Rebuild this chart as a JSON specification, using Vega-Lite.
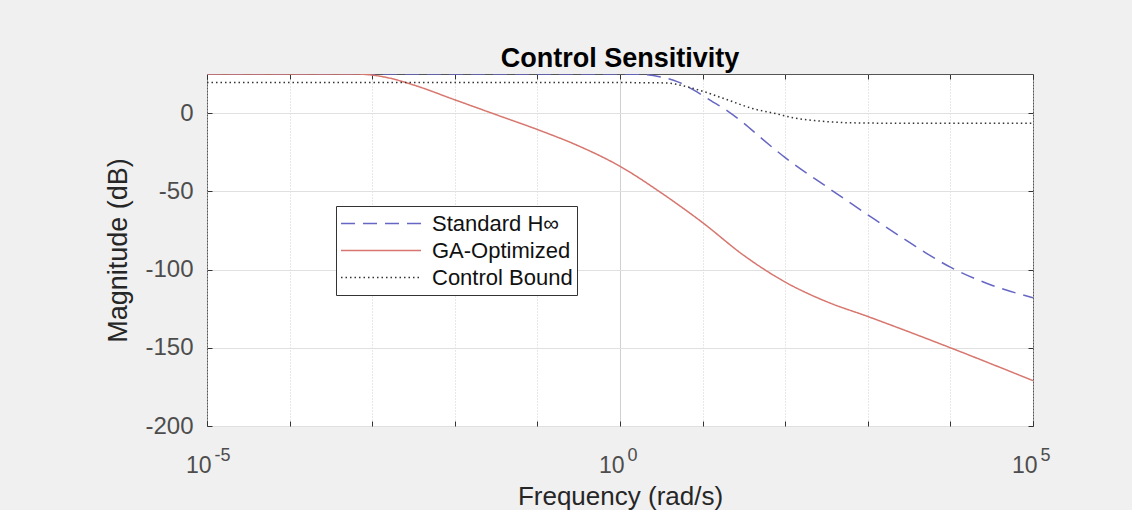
{
  "$schema": "https://vega.github.io/schema/vega-lite/v6.json",
  "width": 826,
  "height": 352,
  "autosize": {"type": "none"},
  "padding": {"left": 207, "top": 74, "right": 99, "bottom": 84},
  "background": "#f0f0f0",
  "title": {"text": "Control Sensitivity", "font": "Liberation Sans", "fontSize": 27, "fontWeight": "bold", "color": "#000000", "anchor": "middle", "offset": 1},
  "config": {
    "view": {"fill": "#ffffff", "stroke": "#555555", "strokeWidth": 1},
    "axis": {"labelFont": "Liberation Sans", "titleFont": "Liberation Sans", "labelColor": "#4d4d4d", "titleColor": "#262626", "titleFontWeight": "normal", "domain": false, "tickColor": "#333333", "labelFlush": false, "labelOverlap": false, "labelBound": false}
  },
  "data": {"values": [
    {"f": 0.00001, "mag": 25, "s": "Standard H∞"},
    {"f": 0.0001, "mag": 25, "s": "Standard H∞"},
    {"f": 0.001, "mag": 25, "s": "Standard H∞"},
    {"f": 0.01, "mag": 25, "s": "Standard H∞"},
    {"f": 0.1, "mag": 25, "s": "Standard H∞"},
    {"f": 1, "mag": 25, "s": "Standard H∞"},
    {"f": 1.995, "mag": 24.6, "s": "Standard H∞"},
    {"f": 3.162, "mag": 23, "s": "Standard H∞"},
    {"f": 5.012, "mag": 20, "s": "Standard H∞"},
    {"f": 7.943, "mag": 14.5, "s": "Standard H∞"},
    {"f": 12.59, "mag": 8, "s": "Standard H∞"},
    {"f": 19.95, "mag": 1.5, "s": "Standard H∞"},
    {"f": 31.62, "mag": -6.5, "s": "Standard H∞"},
    {"f": 50.12, "mag": -15.5, "s": "Standard H∞"},
    {"f": 100, "mag": -28.5, "s": "Standard H∞"},
    {"f": 316.2, "mag": -47, "s": "Standard H∞"},
    {"f": 1000, "mag": -65, "s": "Standard H∞"},
    {"f": 3162, "mag": -82.5, "s": "Standard H∞"},
    {"f": 10000, "mag": -98.5, "s": "Standard H∞"},
    {"f": 31623, "mag": -110, "s": "Standard H∞"},
    {"f": 100000, "mag": -118, "s": "Standard H∞"},
    {"f": 0.00001, "mag": 25, "s": "GA-Optimized"},
    {"f": 0.0001, "mag": 25, "s": "GA-Optimized"},
    {"f": 0.000631, "mag": 25, "s": "GA-Optimized"},
    {"f": 0.001, "mag": 24.3, "s": "GA-Optimized"},
    {"f": 0.001585, "mag": 22.5, "s": "GA-Optimized"},
    {"f": 0.003162, "mag": 18, "s": "GA-Optimized"},
    {"f": 0.01, "mag": 8.5, "s": "GA-Optimized"},
    {"f": 0.03162, "mag": -1, "s": "GA-Optimized"},
    {"f": 0.1, "mag": -10.5, "s": "GA-Optimized"},
    {"f": 0.3162, "mag": -21, "s": "GA-Optimized"},
    {"f": 1, "mag": -34, "s": "GA-Optimized"},
    {"f": 3.162, "mag": -51, "s": "GA-Optimized"},
    {"f": 10, "mag": -70, "s": "GA-Optimized"},
    {"f": 31.62, "mag": -91, "s": "GA-Optimized"},
    {"f": 100, "mag": -108, "s": "GA-Optimized"},
    {"f": 316.2, "mag": -120.5, "s": "GA-Optimized"},
    {"f": 1000, "mag": -130, "s": "GA-Optimized"},
    {"f": 10000, "mag": -150, "s": "GA-Optimized"},
    {"f": 100000, "mag": -171, "s": "GA-Optimized"},
    {"f": 0.00001, "mag": 19.5, "s": "Control Bound"},
    {"f": 1, "mag": 19.5, "s": "Control Bound"},
    {"f": 3.548, "mag": 19.3, "s": "Control Bound"},
    {"f": 6.31, "mag": 17, "s": "Control Bound"},
    {"f": 10, "mag": 14, "s": "Control Bound"},
    {"f": 19.95, "mag": 8.5, "s": "Control Bound"},
    {"f": 39.81, "mag": 3, "s": "Control Bound"},
    {"f": 79.43, "mag": -0.5, "s": "Control Bound"},
    {"f": 125.9, "mag": -3, "s": "Control Bound"},
    {"f": 251.2, "mag": -5, "s": "Control Bound"},
    {"f": 631.0, "mag": -6.2, "s": "Control Bound"},
    {"f": 3162, "mag": -6.5, "s": "Control Bound"},
    {"f": 100000, "mag": -6.5, "s": "Control Bound"}
  ]},
  "encoding": {
    "color": {
      "field": "s", "type": "nominal",
      "scale": {"domain": ["Standard H∞", "GA-Optimized", "Control Bound"], "range": ["#6666c4", "#d7766e", "#333333"]},
      "legend": {
        "title": null, "orient": "none", "legendX": 129, "legendY": 132,
        "fillColor": "#ffffff", "strokeColor": "#333333", "padding": 4,
        "labelFont": "Liberation Sans", "labelFontSize": 22, "labelColor": "#111111", "labelOffset": 10,
        "symbolType": "stroke", "symbolSize": 6400, "symbolStrokeWidth": 1.5, "rowPadding": 0, "clipHeight": 27
      }
    },
    "strokeDash": {
      "field": "s", "type": "nominal",
      "scale": {"domain": ["Standard H∞", "GA-Optimized", "Control Bound"], "range": [[14, 8], [1, 0], [1.5, 3]]},
      "legend": null
    }
  },
  "layer": [
    {
      "transform": [{"filter": "datum.s != 'Control Bound'"}],
      "mark": {"type": "line", "interpolate": "monotone", "strokeWidth": 1.5, "clip": true},
      "encoding": {
        "x": {
          "field": "f", "type": "quantitative",
          "scale": {"type": "log", "domain": [0.00001, 100000], "nice": false},
          "axis": {
            "orient": "bottom",
            "title": "Frequency  (rad/s)", "titleFontSize": 26, "titlePadding": 6,
            "values": [0.00001, 0.0001, 0.001, 0.01, 0.1, 1, 10, 100, 1000, 10000, 100000],
            "labelExpr": "abs(round(log(datum.value)/LN10)) == 5 || round(log(datum.value)/LN10) == 0 ? '10' : ''",
            "labelFontSize": 23, "labelPadding": 51, "labelBaseline": "alphabetic", "labelAlign": "right", "labelOffset": 4,
            "tickSize": -5, "grid": true, "gridColor": "#d0d0d0",
            "gridDash": {"condition": {"test": "round(log(datum.value)/LN10) == 0", "value": []}, "value": [1, 2]}
          }
        },
        "y": {
          "field": "mag", "type": "quantitative",
          "scale": {"domain": [-200, 25], "nice": false},
          "axis": {
            "orient": "left",
            "title": "Magnitude (dB)", "titleFontSize": 27, "titlePadding": 12,
            "values": [-200, -150, -100, -50, 0],
            "labelExpr": "'' + datum.value",
            "labelFontSize": 24, "labelPadding": 19, "tickSize": -5,
            "grid": true, "gridColor": "#e0e0e0"
          }
        }
      }
    },
    {
      "transform": [{"filter": "datum.s == 'Control Bound'"}],
      "mark": {"type": "line", "interpolate": "monotone", "strokeWidth": 1.5, "clip": true},
      "encoding": {
        "x": {
          "field": "f", "type": "quantitative",
          "axis": {
            "orient": "top", "title": null,
            "values": [0.00001, 0.0001, 0.001, 0.01, 0.1, 1, 10, 100, 1000, 10000, 100000],
            "labelExpr": "round(log(datum.value)/LN10) == -5 ? '-5' : round(log(datum.value)/LN10) == 0 ? '0' : round(log(datum.value)/LN10) == 5 ? '5' : ''",
            "labelFontSize": 18, "labelPadding": -381, "labelBaseline": "alphabetic", "labelAlign": "left", "labelOffset": 7,
            "tickSize": -5, "grid": false
          }
        },
        "y": {
          "field": "mag", "type": "quantitative",
          "axis": {
            "orient": "right", "title": null, "labels": false,
            "values": [-200, -150, -100, -50, 0],
            "tickSize": -5, "grid": false
          }
        }
      }
    }
  ],
  "resolve": {"axis": {"x": "independent", "y": "independent"}}
}
